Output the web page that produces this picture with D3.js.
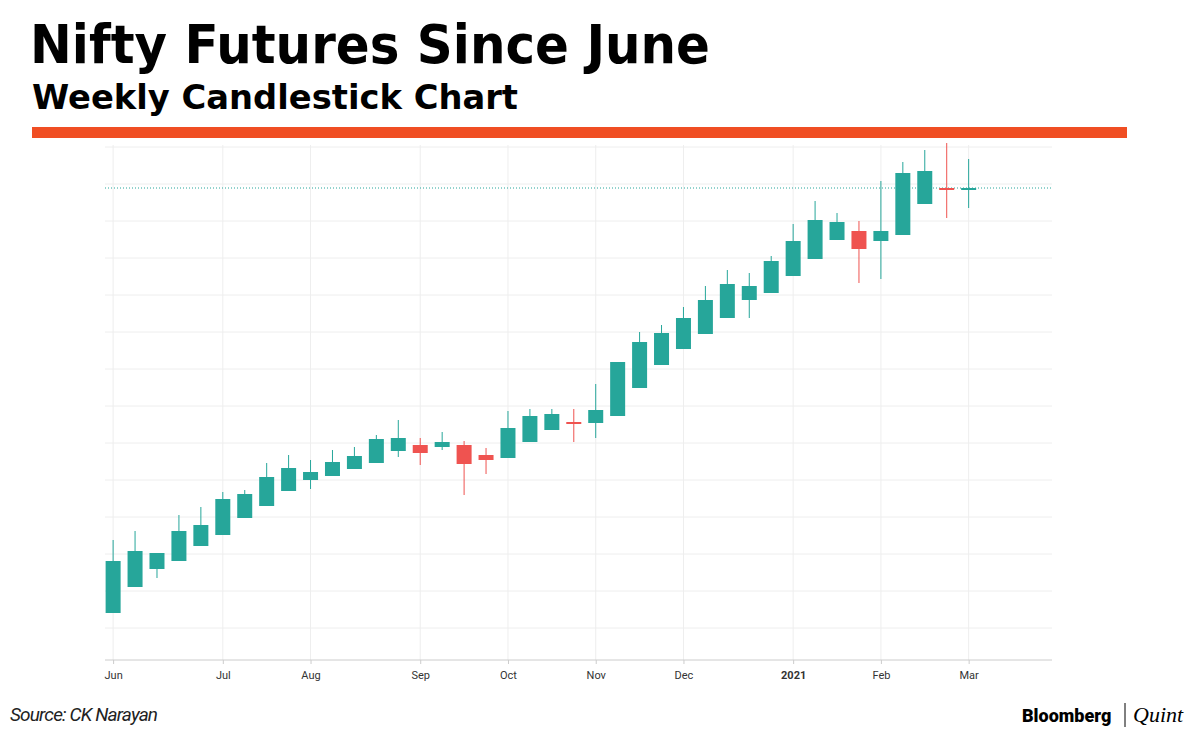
<!DOCTYPE html>
<html><head><meta charset="utf-8">
<script src="https://cdn.jsdelivr.net/npm/d3@7"></script>
<style>body{margin:0;background:#fff}svg{display:block}</style>
</head><body><svg id="c" width="1200" height="730"></svg>
<script>
// weekly candles: [open, high, low, close]
const weeks = ["Jun 1","Jun 8","Jun 15","Jun 22","Jun 29","Jul 6","Jul 13","Jul 20","Jul 27","Aug 3","Aug 10","Aug 17","Aug 24","Aug 31","Sep 7","Sep 14","Sep 21","Sep 28","Oct 5","Oct 12","Oct 19","Oct 26","Nov 2","Nov 9","Nov 16","Nov 23","Nov 30","Dec 7","Dec 14","Dec 21","Dec 28","Jan 4","Jan 11","Jan 18","Jan 25","Feb 1","Feb 8","Feb 15","Feb 22","Mar 1"];
const opens  = [9470,9730,9910,9990,10140,10250,10420,10540,10690,10800,10840,10910,10970,11090,11150,11130,11150,11050,11020,11180,11300,11380,11370,11440,11720,11950,12110,12260,12420,12600,12670,12840,13010,13200,13290,13190,13250,13560,13720,13710];
const highs  = [10200,10290,10070,10450,10530,10680,10700,10970,11050,11000,11100,11130,11250,11400,11220,11280,11190,11120,11490,11510,11510,11510,11760,11980,12280,12350,12530,12740,12900,12870,13040,13360,13590,13470,13390,13790,13980,14100,14170,14010];
const lows   = [9470,9730,9820,9990,10140,10250,10420,10540,10690,10710,10840,10910,10970,11030,10950,11100,10650,10860,11020,11180,11300,11180,11220,11440,11720,11950,12110,12260,12420,12420,12670,12840,13010,13200,12770,12810,13250,13560,13420,13520];
const closes = [9990,10090,10070,10290,10350,10610,10660,10830,10920,10880,10980,11040,11210,11220,11070,11180,10960,11000,11320,11440,11460,11360,11500,11980,12180,12270,12420,12600,12760,12740,12990,13190,13400,13380,13110,13290,13870,13890,13710,13720];
const monthTicks = [0,5,9,14,18,22,26,31,35,39];
const monthLabels = ["Jun","Jul","Aug","Sep","Oct","Nov","Dec","2021","Feb","Mar"];
const yGrid = [9320,9690,10060,10430,10800,11170,11540,11910,12280,12650,13020,13390,13760,14130];
const lastPrice = 13720;

const svg = d3.select("#c");
const x = d3.scaleLinear().domain([-0.37,42.8]).range([105,1052]);
const y = d3.scaleLinear().domain([9000,14150]).range([660,145]);

svg.append("text").attr("x",30).attr("y",63).attr("font-family","'DejaVu Sans', sans-serif").attr("font-weight","bold").attr("font-size",54).attr("fill","#000").attr("textLength",680).attr("lengthAdjust","spacingAndGlyphs").text("Nifty Futures Since June");
svg.append("text").attr("x",32).attr("y",109).attr("font-family","'DejaVu Sans', sans-serif").attr("font-weight","bold").attr("font-size",34).attr("fill","#000").attr("textLength",486).attr("lengthAdjust","spacingAndGlyphs").text("Weekly Candlestick Chart");
svg.append("rect").attr("x",32).attr("y",127).attr("width",1095).attr("height",11).attr("fill","#f04e23");

const g = svg.append("g");
g.selectAll(".hg").data(yGrid).join("line").attr("x1",105).attr("x2",1052).attr("y1",d=>y(d)).attr("y2",d=>y(d)).attr("stroke","#eeeeee");
g.selectAll(".vg").data(monthTicks).join("line").attr("x1",d=>x(d)).attr("x2",d=>x(d)).attr("y1",145).attr("y2",660).attr("stroke","#eeeeee");
g.append("line").attr("x1",105).attr("x2",1052).attr("y1",660).attr("y2",660).attr("stroke","#cccccc");
g.append("line").attr("x1",105).attr("x2",1052).attr("y1",y(lastPrice)).attr("y2",y(lastPrice)).attr("stroke","#26a69a").attr("stroke-dasharray","1,2");

const ax = d3.axisBottom(x).tickValues(monthTicks).tickFormat((d,i)=>monthLabels[i]).tickSize(4);
const axg = svg.append("g").attr("transform","translate(0,660)").call(ax);
axg.select(".domain").remove();
axg.selectAll("line").attr("stroke","#ccc");
axg.selectAll("text").attr("font-family","Roboto, sans-serif").attr("font-size",11).attr("fill","#333").attr("dy","1.1em")
  .attr("font-weight",(d,i)=>monthLabels[i]==="2021"?"bold":"normal");

const idx = d3.range(weeks.length);
const col = i => closes[i]>=opens[i] ? "#26a69a" : "#ef5350";
g.selectAll(".wick").data(idx).join("line").attr("x1",i=>x(i)).attr("x2",i=>x(i)).attr("y1",i=>y(highs[i])).attr("y2",i=>y(lows[i])).attr("stroke",col).attr("stroke-width",1);
g.selectAll(".body").data(idx).join("rect").attr("x",i=>x(i)-7.5).attr("width",15)
  .attr("y",i=>y(Math.max(opens[i],closes[i])))
  .attr("height",i=>Math.max(2,Math.abs(y(opens[i])-y(closes[i]))))
  .attr("fill",col);

svg.append("text").attr("x",10).attr("y",721).attr("font-family","'Liberation Sans Narrow', 'Roboto', sans-serif").attr("font-style","italic").attr("font-size",19).attr("fill","#222").attr("textLength",148).text("Source: CK Narayan");
svg.append("text").attr("x",1022).attr("y",722).attr("font-family","Roboto, sans-serif").attr("font-weight",900).attr("font-size",18).attr("fill","#000").text("Bloomberg");
svg.append("line").attr("x1",1125).attr("x2",1125).attr("y1",703).attr("y2",727).attr("stroke","#000");
svg.append("text").attr("x",1133).attr("y",722).attr("font-family","'Liberation Serif', serif").attr("font-style","italic").attr("font-size",22).attr("fill","#000").text("Quint");
</script></body></html>
